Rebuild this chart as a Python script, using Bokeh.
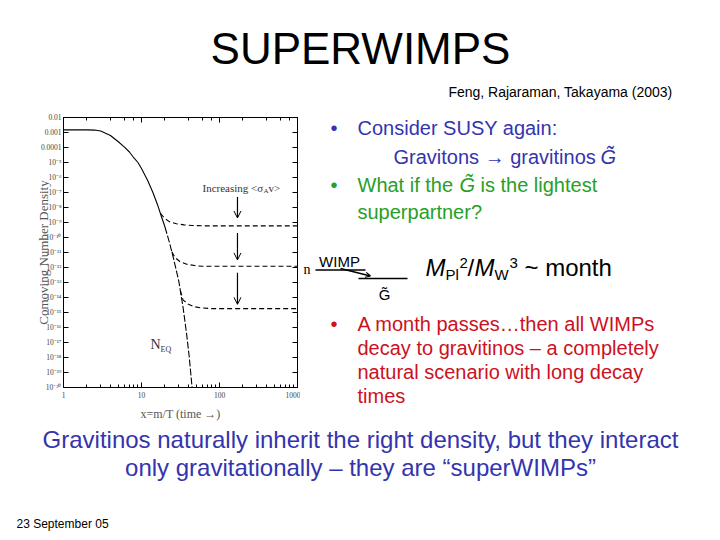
from bokeh.plotting import figure
from bokeh.layouts import column, row
from bokeh.models import (Label, Arrow, OpenHead, LogAxis, FixedTicker, LogTicker,
                          CustomJSTickFormatter, Range1d)
from bokeh.embed import file_html
from bokeh.resources import INLINE

# ---------------- data ----------------
# equilibrium abundance N_EQ (solid upper part, dashed tail)
eq_x = [1, 1.5, 2, 2.5, 3, 4, 5, 6, 7, 8, 9, 10, 12, 14, 16, 18, 20]
eq_y = [1.5e-3, 1.5e-3, 1.5e-3, 1.45e-3, 1.26e-3, 6.3e-4, 2.5e-4, 1.1e-4, 5e-5,
        2e-5, 1e-5, 4e-6, 6.3e-7, 1e-7, 1.6e-8, 2.5e-9, 5e-10]
eq_tail_x = [20, 23, 26, 30, 34, 38, 41, 44.5, 46]
eq_tail_y = [5e-10, 4e-11, 3.2e-12, 1.3e-13, 2.5e-15, 3.2e-17, 1e-18, 1e-20, 2e-21]

# freeze-out curves for increasing <sigma_A v>
fo1_x = [17.5, 20, 23, 28, 35, 45, 60, 1000]
fo1_y = [4e-9, 1.8e-9, 1.1e-9, 8.3e-10, 6.9e-10, 6.3e-10, 6e-10, 6e-10]
fo2_x = [24.5, 27, 31, 38, 48, 60, 1000]
fo2_y = [1.1e-11, 4.5e-12, 2.5e-12, 1.66e-12, 1.35e-12, 1.2e-12, 1.2e-12]
fo3_x = [31.5, 34, 40, 48, 60, 80, 1000]
fo3_y = [2.9e-14, 7e-15, 3.5e-15, 2.4e-15, 2e-15, 1.8e-15, 1.8e-15]

# arrows "Increasing <sigma_A v>"
arrow_x = [170, 170, 170]
arrow_top = [5e-8, 2e-10, 4.5e-13]
arrow_bot = [2e-9, 3.2e-12, 3.5e-15]

y_ticks = [1e-2, 1e-3, 1e-4, 1e-5, 1e-6, 1e-7, 1e-8, 1e-9, 1e-10, 1e-11, 1e-12,
           1e-13, 1e-14, 1e-15, 1e-16, 1e-17, 1e-18, 1e-19, 1e-20]

title_text = "SUPERWIMPS"
ref_text = "Feng, Rajaraman, Takayama (2003)"
blue_lines = ["Consider SUSY again:", "Gravitons \u2192 gravitinos "]
green_lines = ["What if the", "is the lightest", "superpartner?"]
red_lines = ["A month passes\u2026then all WIMPs", "decay to gravitinos \u2013 a completely",
             "natural scenario with long decay", "times"]
bottom_lines = ["Gravitinos naturally inherit the right density, but they interact",
                "only gravitationally \u2013 they are \u201csuperWIMPs\u201d"]
date_text = "23 September  05"

BLUE = "#3434ae"
GREEN = "#26a026"
RED = "#cc1122"
SANS = "Liberation Sans"
SERIF = "Liberation Serif"

PAGE_W = 720
TOP_H = 100      # title band
MID_H = 323      # chart + bullets band
BOT_H = 117      # bottom text band
CHART_W = 300

# ---------------- helpers ----------------
def no_align(f):
    if "frame_align" in f.properties():
        f.frame_align = False

def panel(x0, y0, w, h):
    """A blank figure whose data coordinates are page pixels (y downward)."""
    f = figure(width=w, height=h, x_range=Range1d(x0, x0 + w), y_range=Range1d(y0 + h, y0),
               output_backend="svg", toolbar_location=None,
               x_axis_location=None, y_axis_location=None,
               min_border=0, outline_line_color=None,
               background_fill_color="white", border_fill_color="white")
    f.grid.visible = False
    no_align(f)
    return f

def lab(f, txt, ix, iy, size, color="black", font=SANS, style="normal",
        align="left", baseline="middle", units="data", angle=0.0):
    f.add_layout(Label(x=ix, y=iy, x_units=units, y_units=units,
                       text=txt, text_font_size=f"{size}px", text_color=color,
                       text_font=font, text_font_style=style, text_align=align,
                       text_baseline=baseline, angle=angle))

# ---------------- top band ----------------
top = panel(0, 0, PAGE_W, TOP_H)
lab(top, title_text, 360, 48, 44, align="center")
lab(top, ref_text, 672, 91, 14, align="right")

# ---------------- chart ----------------
FL, FR, FT, FB = 63, 297, 117, 389   # frame edges in page pixels
chart = figure(width=CHART_W, height=MID_H, x_axis_type="log", y_axis_type="log",
               x_range=(1, 1000), y_range=(1e-20, 1e-2),
               output_backend="svg", toolbar_location=None,
               min_border_left=FL, min_border_right=CHART_W - FR,
               min_border_top=FT - TOP_H, min_border_bottom=TOP_H + MID_H - FB,
               background_fill_color="white", border_fill_color="white",
               outline_line_color="black", outline_line_width=1)
chart.grid.visible = False
no_align(chart)

ylab_code = """
const e = Math.round(Math.log10(tick));
if (e >= -4) { return tick.toFixed(-e); }
const m = {"-":"\u207b","0":"\u2070","1":"\u00b9","2":"\u00b2","3":"\u00b3","4":"\u2074",
           "5":"\u2075","6":"\u2076","7":"\u2077","8":"\u2078","9":"\u2079"};
return "10" + String(e).split("").map(c => m[c]).join("");
"""

def style_axis(ax, labels=True):
    ax.major_tick_in = 5
    ax.major_tick_out = 0
    ax.minor_tick_in = 3
    ax.minor_tick_out = 0
    ax.axis_line_color = "black"
    ax.major_tick_line_color = "black"
    ax.minor_tick_line_color = "black"
    ax.major_label_text_font = SERIF
    ax.major_label_text_font_size = "7.5px"
    ax.major_label_text_color = "#444444"
    ax.axis_label_text_font = SERIF
    ax.axis_label_text_font_style = "normal"
    ax.axis_label_text_color = "#555555"
    if not labels:
        ax.major_label_text_font_size = "0px"
        ax.major_label_standoff = 0

chart.yaxis.ticker = FixedTicker(ticks=y_ticks, minor_ticks=[])
chart.yaxis.formatter = CustomJSTickFormatter(code=ylab_code)
chart.yaxis.major_label_standoff = 2
chart.xaxis.formatter = CustomJSTickFormatter(code="return Math.round(tick).toString();")
chart.xaxis.major_label_standoff = 4
style_axis(chart.xaxis[0])
style_axis(chart.yaxis[0])
chart.yaxis.axis_label = "Comoving Number Density"
chart.yaxis.axis_label_text_font_size = "13px"
chart.yaxis.axis_label_standoff = -13
chart.xaxis.axis_label = "x=m/T (time \u2192)"
chart.xaxis.axis_label_text_font_size = "12px"
chart.xaxis.axis_label_standoff = 6

top_ax = LogAxis(ticker=LogTicker(), formatter=CustomJSTickFormatter(code="return '';"))
right_ax = LogAxis(ticker=FixedTicker(ticks=y_ticks, minor_ticks=[]),
                   formatter=CustomJSTickFormatter(code="return '';"))
style_axis(top_ax, labels=False)
style_axis(right_ax, labels=False)
chart.add_layout(top_ax, "above")
chart.add_layout(right_ax, "right")

chart.line(eq_x, eq_y, line_color="black", line_width=1.1)
chart.line(eq_tail_x, eq_tail_y, line_color="black", line_width=1.1, line_dash="7 2")
for fx, fy in [(fo1_x, fo1_y), (fo2_x, fo2_y), (fo3_x, fo3_y)]:
    chart.line(fx, fy, line_color="black", line_width=1.1, line_dash="5 3")

for ax_, yt, yb in zip(arrow_x, arrow_top, arrow_bot):
    chart.add_layout(Arrow(end=OpenHead(size=7, line_width=1, line_color="black"),
                           x_start=ax_, y_start=yt, x_end=ax_, y_end=yb,
                           line_width=1.2, line_color="black"))

def clab(txt, ix, iy, size, **kw):
    # screen units relative to frame bottom-left
    lab(chart, txt, ix - FL, FB - iy, size, units="screen", font=SERIF, color="#333333", **kw)

clab("Increasing <\u03c3", 202, 189, 11)
clab("A", 263, 192, 7)
clab("v>", 268, 189, 11)
clab("N", 150, 346, 14)
clab("EQ", 160, 351, 8)

# ---------------- right text panel ----------------
rp = panel(CHART_W, TOP_H, PAGE_W - CHART_W, MID_H)

lab(rp, "\u2022", 330, 127, 20, color=BLUE)
lab(rp, blue_lines[0], 357, 127, 20, color=BLUE)
lab(rp, blue_lines[1], 393, 156, 20, color=BLUE)
lab(rp, "G\u0303", 600, 156, 20, color=BLUE, style="italic")

lab(rp, "\u2022", 330, 184, 20, color=GREEN)
lab(rp, green_lines[0], 357, 184, 20, color=GREEN)
lab(rp, "G\u0303", 459, 184, 20, color=GREEN, style="italic")
lab(rp, green_lines[1], 480, 184, 20, color=GREEN)
lab(rp, green_lines[2], 357, 211, 20, color=GREEN)

# decay diagram
lab(rp, "n", 303, 269, 14, font=SERIF)
lab(rp, "WIMP", 339, 261, 15, align="center")
rp.segment(x0=[315, 358], y0=[269.5, 278], x1=[365, 407], y1=[269.5, 278],
           line_color="black", line_width=1.6)
rp.add_layout(Arrow(end=OpenHead(size=5, line_width=1.2), x_start=340, y_start=268,
                    x_end=370, y_end=275.5, line_width=1.3, line_color="black"))
lab(rp, "G\u0303", 384, 294, 15, align="center")

# M_Pl^2 / M_W^3 ~ month
lab(rp, "M", 425, 267, 24, style="italic")
lab(rp, "Pl", 445, 274, 15)
lab(rp, "2", 459, 262, 15)
lab(rp, "/", 467, 267, 24)
lab(rp, "M", 474, 267, 24, style="italic")
lab(rp, "W", 494, 274, 15)
lab(rp, "3", 509, 262, 15)
lab(rp, "~ month", 524, 267, 24)

lab(rp, "\u2022", 330, 323, 20, color=RED)
for i, t in enumerate(red_lines):
    lab(rp, t, 357, 323 + 24 * i, 20, color=RED)

# ---------------- bottom band ----------------
bot = panel(0, TOP_H + MID_H, PAGE_W, BOT_H)
lab(bot, bottom_lines[0], 360, 439, 24, color=BLUE, align="center")
lab(bot, bottom_lines[1], 360, 467, 24, color=BLUE, align="center")
lab(bot, date_text, 16, 523, 12)

layout = column(top, row(chart, rp, spacing=0), bot, spacing=0)
open("out.html", "w").write(file_html(layout, INLINE))
